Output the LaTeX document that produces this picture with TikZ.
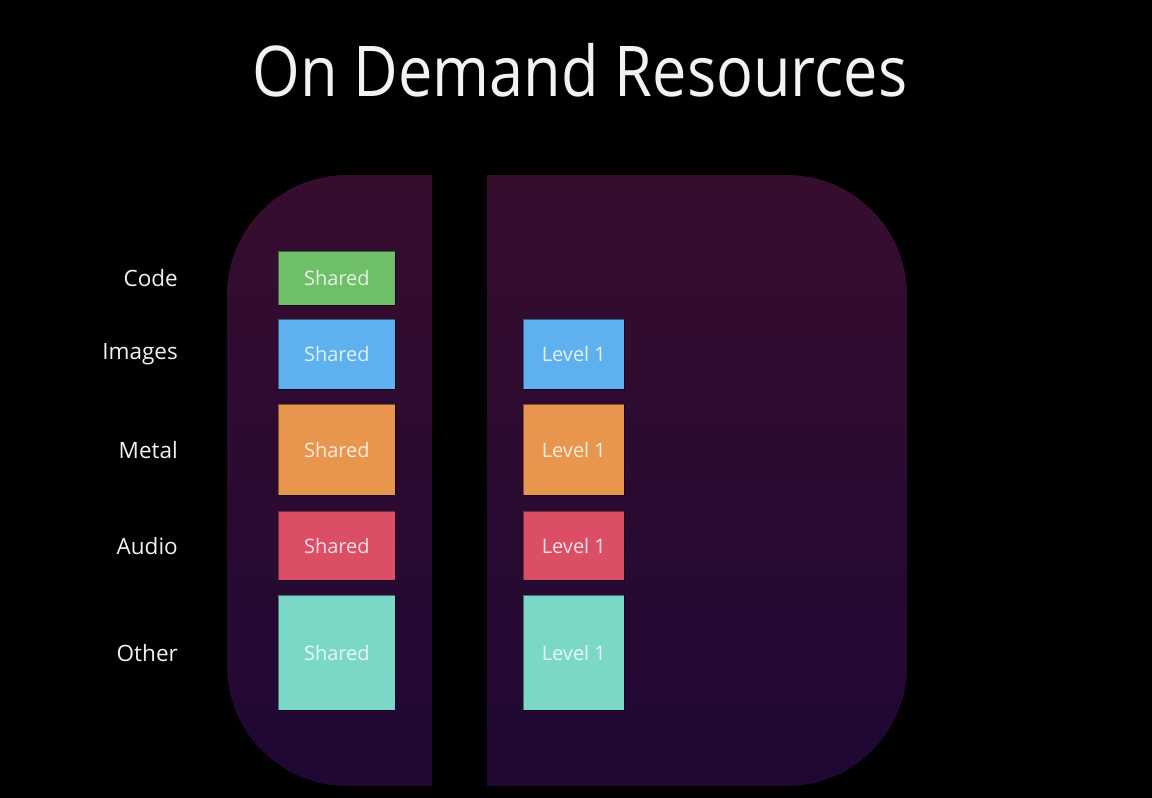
\documentclass[tikz,border=0pt]{standalone}
\usepackage{fontspec}
\setmainfont{Open Sans}
\definecolor{bgtop}{HTML}{370D2E}
\definecolor{bgbot}{HTML}{1F0834}
\definecolor{cgreen}{HTML}{6EBF68}
\definecolor{cblue}{HTML}{5EB1EE}
\definecolor{corange}{HTML}{E8964D}
\definecolor{cred}{HTML}{DC4D66}
\definecolor{cteal}{HTML}{7BD8C7}
\definecolor{txtlight}{HTML}{F2F2F2}
\begin{document}
\begin{tikzpicture}[x=1pt,y=-1pt,
  blockbox/.style={draw=black, draw opacity=0.45, line width=0.7pt, inner sep=0pt, anchor=north west,
    font=\fontsize{20}{20}\selectfont, text=white, text opacity=0.82},
  rowlabel/.style={anchor=east, inner sep=0pt, font=\fontsize{22.5}{22.5}\selectfont, text=txtlight}]
\useasboundingbox (0,0) rectangle (1152,798);
\fill[black] (0,0) rectangle (1152,798);
% app icon shape
\shade[top color=bgtop, bottom color=bgbot, rounded corners=120pt] (227,175) rectangle (907,786);
% gap
\fill[black] (432,170) rectangle (487,798);
% title
\node[xscale=0.875] (title) at (580,70) {\fontsize{70}{70}\selectfont\color{txtlight}On Demand Resources};
% labels
\node[rowlabel] (lcode) at (178,278) {Code};
\node[rowlabel] (limages) at (178,354) {Images};
\node[rowlabel] (lmetal) at (178,450) {Metal};
\node[rowlabel] (laudio) at (178,546) {Audio};
\node[rowlabel] (lother) at (178,653) {Other};
% shared column
\node[blockbox, fill=cgreen, minimum width=117pt, minimum height=54pt] (scode) at (278,251) {Shared};
\node[blockbox, fill=cblue, minimum width=117pt, minimum height=70pt] (simages) at (278,319) {Shared};
\node[blockbox, fill=corange, minimum width=117pt, minimum height=91pt] (smetal) at (278,404) {Shared};
\node[blockbox, fill=cred, minimum width=117pt, minimum height=69pt] (saudio) at (278,511) {Shared};
\node[blockbox, fill=cteal, minimum width=117pt, minimum height=115pt] (sother) at (278,595) {Shared};
% level 1 column
\node[blockbox, fill=cblue, minimum width=101pt, minimum height=70pt] (vimages) at (523,319) {Level 1};
\node[blockbox, fill=corange, minimum width=101pt, minimum height=91pt] (vmetal) at (523,404) {Level 1};
\node[blockbox, fill=cred, minimum width=101pt, minimum height=69pt] (vaudio) at (523,511) {Level 1};
\node[blockbox, fill=cteal, minimum width=101pt, minimum height=115pt] (vother) at (523,595) {Level 1};
\end{tikzpicture}
\end{document}
